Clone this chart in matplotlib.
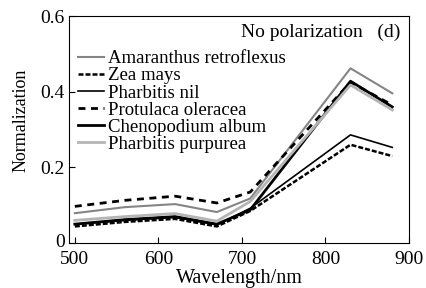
import numpy as np
import matplotlib
matplotlib.use('Agg')
import matplotlib.pyplot as plt
from matplotlib.transforms import ScaledTranslation

plt.rcParams['font.family'] = ['Liberation Serif', 'DejaVu Serif']

wavelength = [500, 560, 620, 670, 710, 830, 880]
amaranthus = [0.079, 0.095, 0.103, 0.082, 0.118, 0.462, 0.396]
zea_mays = [0.044, 0.056, 0.064, 0.044, 0.085, 0.260, 0.230]
pharbitis_nil = [0.050, 0.060, 0.068, 0.048, 0.092, 0.286, 0.253]
protulaca = [0.097, 0.113, 0.124, 0.106, 0.135, 0.425, 0.365]
chenopodium = [0.050, 0.062, 0.070, 0.050, 0.088, 0.428, 0.360]
purpurea = [0.060, 0.070, 0.078, 0.058, 0.110, 0.418, 0.352]

fig = plt.figure(figsize=(4.26, 2.88), dpi=100)
ax = fig.add_axes([0.162, 0.156, 0.798, 0.788])

ax.plot(wavelength, amaranthus, color='#858585', lw=1.5, label='Amaranthus retroflexus')
ax.plot(wavelength, zea_mays, color='black', lw=1.8, ls=(0, (2, 0.8)), label='Zea mays')
ax.plot(wavelength, pharbitis_nil, color='black', lw=1.2, label='Pharbitis nil')
ax.plot(wavelength, protulaca, color='black', lw=2.0, ls=(0, (2.5, 2)), label='Protulaca oleracea')
ax.plot(wavelength, chenopodium, color='black', lw=2.0, label='Chenopodium album')
ax.plot(wavelength, purpurea, color='#b5b5b5', lw=2.0, label='Pharbitis purpurea')

ax.set_xlim(493, 898)
ax.set_ylim(0, 0.6)
ax.set_xticks([500, 600, 700, 800, 900])
ax.set_yticks([0, 0.2, 0.4, 0.6])
ax.set_yticklabels(['0', '0.2', '0.4', '0.6'])
ax.tick_params(direction='in', labelsize=14, length=4)
ax.tick_params(axis='x', pad=6)
ax.tick_params(axis='y', pad=3)
# lift the "0" a little so it clears the "500"
lbl0 = ax.get_yticklabels()[0]
lbl0.set_transform(lbl0.get_transform() + ScaledTranslation(0, 3 / 100, fig.dpi_scale_trans))

ax.set_xlabel('Wavelength/nm', fontsize=14.5, labelpad=0.5)
ax.set_ylabel('Normalization', fontsize=13)
ax.yaxis.set_label_coords(-0.115, 0.54)

ax.text(0.975, 0.965, 'No polarization   (d)', transform=ax.transAxes,
        ha='right', va='top', fontsize=14)
ax.legend(loc='upper left', bbox_to_anchor=(9 / 340, 0.85), frameon=False, fontsize=13.5,
          handlelength=1.4, handletextpad=0.2, labelspacing=0.0, borderpad=0,
          borderaxespad=0)

fig.savefig('out.png', dpi=100)
